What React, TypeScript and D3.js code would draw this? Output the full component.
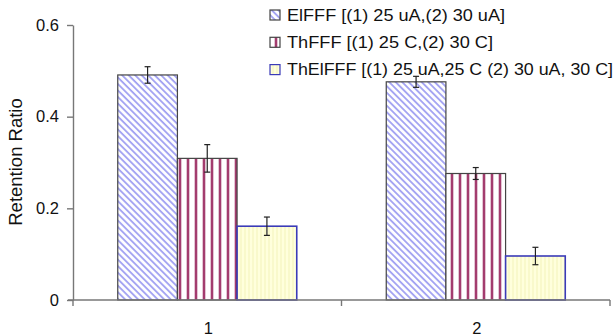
import React, { useEffect, useRef } from 'react';
import * as d3 from 'd3';

// chart data
const categories = ['1', '2'];
const seriesNames = [
  'ElFFF [(1) 25 uA,(2) 30 uA]',
  'ThFFF [(1) 25 C,(2) 30 C]',
  'ThElFFF [(1) 25 uA,25 C (2) 30 uA, 30 C]',
];
const elfffValues = [0.491, 0.476];
const thfffValues = [0.309, 0.276];
const thelfffValues = [0.161, 0.096];
const elfffErrors = [0.018, 0.012];
const thfffErrors = [0.03, 0.013];
const thelfffErrors = [0.02, 0.019];
const yTicks = [0, 0.2, 0.4, 0.6];

const seriesValues = [elfffValues, thfffValues, thelfffValues];
const seriesErrors = [elfffErrors, thfffErrors, thelfffErrors];
const fills = ['url(#diag)', 'url(#vstripe)', 'url(#yellow)'];
const strokes = ['#444', '#444', '#3b3bb8'];
const strokeWidths = [1.2, 1.2, 1.6];
const legendWidths = [218, 206, 326];

export default function App() {
  const ref = useRef<SVGSVGElement>(null);

  useEffect(() => {
    const svg = d3.select(ref.current);
    svg.selectAll('*').remove();

    const margin = { left: 73, right: 6, top: 25, bottom: 36 };
    const W = 616, H = 336;

    const defs = svg.append('defs');
    const diag = defs.append('pattern').attr('id', 'diag')
      .attr('patternUnits', 'userSpaceOnUse').attr('width', 4.6).attr('height', 4.6)
      .attr('patternTransform', 'rotate(-45)');
    diag.append('rect').attr('width', 4.6).attr('height', 4.6).attr('fill', '#fff');
    diag.append('line').attr('x1', 1).attr('x2', 1).attr('y1', 0).attr('y2', 4.6)
      .attr('stroke', '#a0a0f2').attr('stroke-width', 1.8);

    const vs = defs.append('pattern').attr('id', 'vstripe')
      .attr('patternUnits', 'userSpaceOnUse').attr('width', 8).attr('height', 8);
    vs.append('rect').attr('width', 8).attr('height', 8).attr('fill', '#fff');
    vs.append('line').attr('x1', 4).attr('x2', 4).attr('y1', 0).attr('y2', 8)
      .attr('stroke', '#a33c6e').attr('stroke-width', 2.6);

    const yp = defs.append('pattern').attr('id', 'yellow')
      .attr('patternUnits', 'userSpaceOnUse').attr('width', 4).attr('height', 4);
    yp.append('rect').attr('width', 4).attr('height', 4).attr('fill', '#ffffdc');
    yp.append('line').attr('x1', 1).attr('x2', 1).attr('y1', 0).attr('y2', 4)
      .attr('stroke', '#f6f6c0').attr('stroke-width', 1.2);

    const x0 = d3.scaleBand().domain(categories).range([margin.left, W - margin.right]);
    const x1 = d3.scaleBand().domain(seriesNames).range([0, x0.bandwidth()]).paddingOuter(0.75);
    const y = d3.scaleLinear().domain([0, 0.6]).range([H - margin.bottom, margin.top]);

    const g = svg.append('g');

    // bars
    seriesNames.forEach((s, si) => {
      g.selectAll('.bar' + si)
        .data(categories)
        .enter().append('rect')
        .attr('x', (c) => x0(c)! + x1(s)!)
        .attr('y', (c, i) => y(seriesValues[si][i]))
        .attr('width', x1.bandwidth())
        .attr('height', (c, i) => y(0) - y(seriesValues[si][i]))
        .attr('fill', fills[si])
        .attr('stroke', strokes[si])
        .attr('stroke-width', strokeWidths[si]);
    });

    // error bars
    seriesNames.forEach((s, si) => {
      categories.forEach((c, i) => {
        const cx = x0(c)! + x1(s)! + x1.bandwidth() / 2;
        const v = seriesValues[si][i], e = seriesErrors[si][i];
        const eg = g.append('g').attr('stroke', '#222').attr('stroke-width', 1.2);
        eg.append('line').attr('x1', cx).attr('x2', cx).attr('y1', y(v + e)).attr('y2', y(v - e));
        eg.append('line').attr('x1', cx - 3).attr('x2', cx + 3).attr('y1', y(v + e)).attr('y2', y(v + e));
        eg.append('line').attr('x1', cx - 3).attr('x2', cx + 3).attr('y1', y(v - e)).attr('y2', y(v - e));
      });
    });

    const axisColor = '#777';
    const font = 'Liberation Sans, Arial, sans-serif';

    // y axis
    const yAxis = g.append('g').attr('transform', `translate(${margin.left},0)`)
      .call(d3.axisLeft(y).tickValues(yTicks).tickSize(6).tickSizeOuter(0)
        .tickFormat((d) => (+d === 0 ? '0' : (+d).toFixed(1))));
    yAxis.select('.domain').attr('stroke', axisColor).attr('stroke-width', 1.4);
    yAxis.selectAll('.tick line').attr('stroke', axisColor).attr('stroke-width', 1.4);
    yAxis.selectAll('.tick text').attr('font-family', font).attr('font-size', 16.5)
      .attr('fill', '#111').attr('x', -14);

    // x axis
    const xAxisG = g.append('g').attr('transform', `translate(0,${y(0)})`);
    xAxisG.append('line').attr('x1', margin.left - 5).attr('x2', W - margin.right)
      .attr('stroke', axisColor).attr('stroke-width', 1.4);
    const bounds = [margin.left, ...categories.map((c) => x0(c)! + x0.bandwidth())];
    xAxisG.selectAll('.xt').data(bounds).enter().append('line')
      .attr('x1', (d) => d).attr('x2', (d) => d).attr('y1', 0).attr('y2', 6)
      .attr('stroke', axisColor).attr('stroke-width', 1.4);
    xAxisG.selectAll('.xl').data(categories).enter().append('text')
      .attr('x', (c) => x0(c)! + x0.bandwidth() / 2 + 1)
      .attr('y', 34)
      .attr('text-anchor', 'middle')
      .attr('font-family', font).attr('font-size', 16.5).attr('fill', '#111')
      .text((c) => c);

    // y label
    g.append('text')
      .attr('transform', 'translate(22,162) rotate(-90)')
      .attr('text-anchor', 'middle')
      .attr('font-family', font).attr('font-size', 18.5).attr('fill', '#111')
      .text('Retention Ratio');

    // legend
    const legend = g.append('g');
    seriesNames.forEach((s, si) => {
      const ly = 10 + si * 27.3;
      legend.append('rect').attr('x', 270).attr('y', ly).attr('width', 10).attr('height', 10)
        .attr('fill', fills[si]).attr('stroke', strokes[si]).attr('stroke-width', 1.2);
      legend.append('text').attr('x', 287).attr('y', ly + 10.5)
        .attr('font-family', font).attr('font-size', 16).attr('fill', '#111')
        .attr('textLength', legendWidths[si]).attr('lengthAdjust', 'spacingAndGlyphs')
        .text(s);
    });
  }, []);

  return (
    <svg ref={ref} width={616} height={336}
      style={{ position: 'absolute', left: 0, top: 0, background: '#fff' }} />
  );
}
